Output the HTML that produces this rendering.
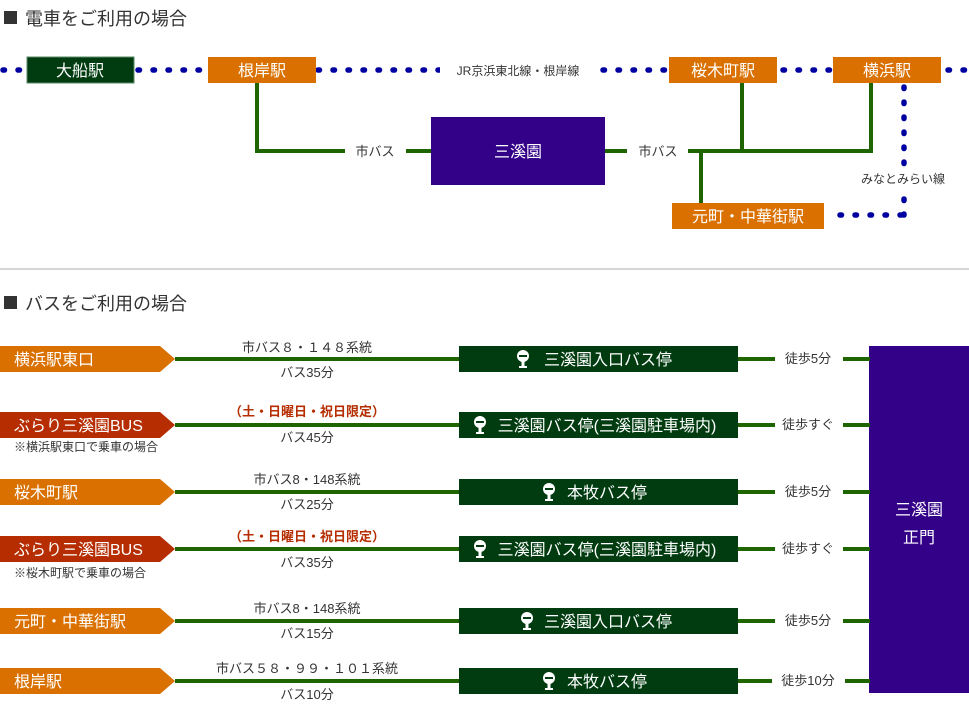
<!DOCTYPE html>
<html><head><meta charset="utf-8"><style>
html,body{margin:0;padding:0;background:#fff;}
svg{display:block;font-family:"Liberation Sans","Noto Sans CJK JP",sans-serif;}
</style></head><body>
<svg width="969" height="708" viewBox="0 0 969 708" xmlns="http://www.w3.org/2000/svg">
<defs>
<g id="bs">
<circle cx="0" cy="-3" r="6" fill="#fff"/>
<rect x="-4" y="-4" width="8" height="2" fill="#003c10"/>
<rect x="-1.5" y="2" width="3" height="6" fill="#fff"/>
<rect x="-4" y="7" width="8" height="2" fill="#fff"/>
</g>
</defs>
<!-- titles -->
<rect x="4" y="11" width="13" height="13" fill="#333"/>
<text x="25" y="25" font-size="18" fill="#333">電車をご利用の場合</text>
<rect x="4" y="296" width="13" height="13" fill="#333"/>
<text x="25" y="310" font-size="18" fill="#333">バスをご利用の場合</text>
<line x1="0" y1="269" x2="969" y2="269" stroke="#c8c8c8" stroke-width="1.5"/>

<!-- dotted rail -->
<g stroke="#0000a0" stroke-width="5.5" stroke-linecap="round" stroke-dasharray="1.5 13.5" fill="none">
<line x1="3" y1="70" x2="440" y2="70"/>
<line x1="603" y1="70" x2="969" y2="70"/>
<line x1="904" y1="87" x2="904" y2="170"/>
<line x1="904" y1="199" x2="904" y2="215"/>
<line x1="840" y1="215" x2="904" y2="215"/>
</g>
<rect x="440" y="60" width="160" height="20" fill="#fff"/>
<text x="518" y="75" font-size="12" fill="#333" text-anchor="middle">JR京浜東北線・根岸線</text>
<text x="903" y="183" font-size="12" fill="#333" text-anchor="middle">みなとみらい線</text>

<!-- green bus lines -->
<g stroke="#1e6400" stroke-width="4" fill="none">
<polyline points="257,83 257,151 345,151"/>
<line x1="406" y1="151" x2="431" y2="151"/>
<line x1="605" y1="151" x2="627" y2="151"/>
<polyline points="688,151 871,151 871,83"/>
<line x1="742" y1="83" x2="742" y2="151"/>
<line x1="701" y1="151" x2="701" y2="203"/>
</g>
<text x="375" y="156" font-size="13" fill="#333" text-anchor="middle">市バス</text>
<text x="658" y="156" font-size="13" fill="#333" text-anchor="middle">市バス</text>

<!-- stations -->
<rect x="27" y="57" width="107" height="26" fill="#003c10" stroke="#5a8a66"/>
<text x="80" y="76" font-size="16" fill="#fff" text-anchor="middle">大船駅</text>
<rect x="208" y="57" width="108" height="26" fill="#d97000"/>
<text x="262" y="76" font-size="16" fill="#fff" text-anchor="middle">根岸駅</text>
<rect x="669" y="57" width="108" height="26" fill="#d97000"/>
<text x="723" y="76" font-size="16" fill="#fff" text-anchor="middle">桜木町駅</text>
<rect x="833" y="57" width="108" height="26" fill="#d97000"/>
<text x="887" y="76" font-size="16" fill="#fff" text-anchor="middle">横浜駅</text>
<rect x="672" y="203" width="152" height="26" fill="#d97000"/>
<text x="748" y="222" font-size="16" fill="#fff" text-anchor="middle">元町・中華街駅</text>
<rect x="431" y="117" width="174" height="68" fill="#330088"/>
<text x="518" y="157" font-size="16" fill="#fff" text-anchor="middle">三溪園</text>

<!-- bus section -->
<rect x="869" y="346" width="100" height="347" fill="#330088"/>
<text x="919" y="515" font-size="16" fill="#fff" text-anchor="middle">三溪園</text>
<text x="919" y="543" font-size="16" fill="#fff" text-anchor="middle">正門</text>

<g font-size="13" fill="#333" text-anchor="middle">
<g transform="translate(0,346)">
<polygon points="0,0 160,0 175,13 160,26 0,26" fill="#d97000"/>
<text x="14" y="19" font-size="16" fill="#fff" text-anchor="start">横浜駅東口</text>
<line x1="175" y1="13" x2="459" y2="13" stroke="#1e6400" stroke-width="4"/>
<text x="307" y="6">市バス８・１４８系統</text>
<text x="307" y="31">バス35分</text>
<rect x="459" y="0" width="279" height="26" fill="#003c10"/>
<use href="#bs" x="523" y="13"/>
<text x="608" y="19" font-size="16" fill="#fff">三溪園入口バス停</text>
<line x1="738" y1="13" x2="775" y2="13" stroke="#1e6400" stroke-width="4"/>
<line x1="843" y1="13" x2="870" y2="13" stroke="#1e6400" stroke-width="4"/>
<text x="808" y="17">徒歩5分</text>
</g>
<g transform="translate(0,412)">
<polygon points="0,0 160,0 175,13 160,26 0,26" fill="#b52d00"/>
<text x="14" y="19" font-size="16" fill="#fff" text-anchor="start">ぶらり三溪園BUS</text>
<text x="14" y="39" font-size="12" text-anchor="start">※横浜駅東口で乗車の場合</text>
<line x1="175" y1="13" x2="459" y2="13" stroke="#1e6400" stroke-width="4"/>
<text x="307" y="4" fill="#b52d00" font-weight="bold">（土・日曜日・祝日限定）</text>
<text x="307" y="30">バス45分</text>
<rect x="459" y="0" width="279" height="26" fill="#003c10"/>
<use href="#bs" x="480" y="13"/>
<text x="607" y="19" font-size="16" fill="#fff">三溪園バス停(三溪園駐車場内)</text>
<line x1="738" y1="13" x2="775" y2="13" stroke="#1e6400" stroke-width="4"/>
<line x1="843" y1="13" x2="870" y2="13" stroke="#1e6400" stroke-width="4"/>
<text x="808" y="17">徒歩すぐ</text>
</g>
<g transform="translate(0,479)">
<polygon points="0,0 160,0 175,13 160,26 0,26" fill="#d97000"/>
<text x="14" y="19" font-size="16" fill="#fff" text-anchor="start">桜木町駅</text>
<line x1="175" y1="13" x2="459" y2="13" stroke="#1e6400" stroke-width="4"/>
<text x="307" y="5">市バス8・148系統</text>
<text x="307" y="30">バス25分</text>
<rect x="459" y="0" width="279" height="26" fill="#003c10"/>
<use href="#bs" x="549" y="13"/>
<text x="607" y="19" font-size="16" fill="#fff">本牧バス停</text>
<line x1="738" y1="13" x2="775" y2="13" stroke="#1e6400" stroke-width="4"/>
<line x1="843" y1="13" x2="870" y2="13" stroke="#1e6400" stroke-width="4"/>
<text x="808" y="17">徒歩5分</text>
</g>
<g transform="translate(0,536)">
<polygon points="0,0 160,0 175,13 160,26 0,26" fill="#b52d00"/>
<text x="14" y="19" font-size="16" fill="#fff" text-anchor="start">ぶらり三溪園BUS</text>
<text x="14" y="41" font-size="12" text-anchor="start">※桜木町駅で乗車の場合</text>
<line x1="175" y1="13" x2="459" y2="13" stroke="#1e6400" stroke-width="4"/>
<text x="307" y="5" fill="#b52d00" font-weight="bold">（土・日曜日・祝日限定）</text>
<text x="307" y="31">バス35分</text>
<rect x="459" y="0" width="279" height="26" fill="#003c10"/>
<use href="#bs" x="480" y="13"/>
<text x="607" y="19" font-size="16" fill="#fff">三溪園バス停(三溪園駐車場内)</text>
<line x1="738" y1="13" x2="775" y2="13" stroke="#1e6400" stroke-width="4"/>
<line x1="843" y1="13" x2="870" y2="13" stroke="#1e6400" stroke-width="4"/>
<text x="808" y="17">徒歩すぐ</text>
</g>
<g transform="translate(0,608)">
<polygon points="0,0 160,0 175,13 160,26 0,26" fill="#d97000"/>
<text x="14" y="19" font-size="16" fill="#fff" text-anchor="start">元町・中華街駅</text>
<line x1="175" y1="13" x2="459" y2="13" stroke="#1e6400" stroke-width="4"/>
<text x="307" y="5">市バス8・148系統</text>
<text x="307" y="30">バス15分</text>
<rect x="459" y="0" width="279" height="26" fill="#003c10"/>
<use href="#bs" x="527" y="13"/>
<text x="608" y="19" font-size="16" fill="#fff">三溪園入口バス停</text>
<line x1="738" y1="13" x2="775" y2="13" stroke="#1e6400" stroke-width="4"/>
<line x1="843" y1="13" x2="870" y2="13" stroke="#1e6400" stroke-width="4"/>
<text x="808" y="17">徒歩5分</text>
</g>
<g transform="translate(0,668)">
<polygon points="0,0 160,0 175,13 160,26 0,26" fill="#d97000"/>
<text x="14" y="19" font-size="16" fill="#fff" text-anchor="start">根岸駅</text>
<line x1="175" y1="13" x2="459" y2="13" stroke="#1e6400" stroke-width="4"/>
<text x="307" y="5">市バス５８・９９・１０１系統</text>
<text x="307" y="31">バス10分</text>
<rect x="459" y="0" width="279" height="26" fill="#003c10"/>
<use href="#bs" x="549" y="13"/>
<text x="607" y="19" font-size="16" fill="#fff">本牧バス停</text>
<line x1="738" y1="13" x2="772" y2="13" stroke="#1e6400" stroke-width="4"/>
<line x1="845" y1="13" x2="870" y2="13" stroke="#1e6400" stroke-width="4"/>
<text x="808" y="17">徒歩10分</text>
</g>
</g>
</svg>
</body></html>
